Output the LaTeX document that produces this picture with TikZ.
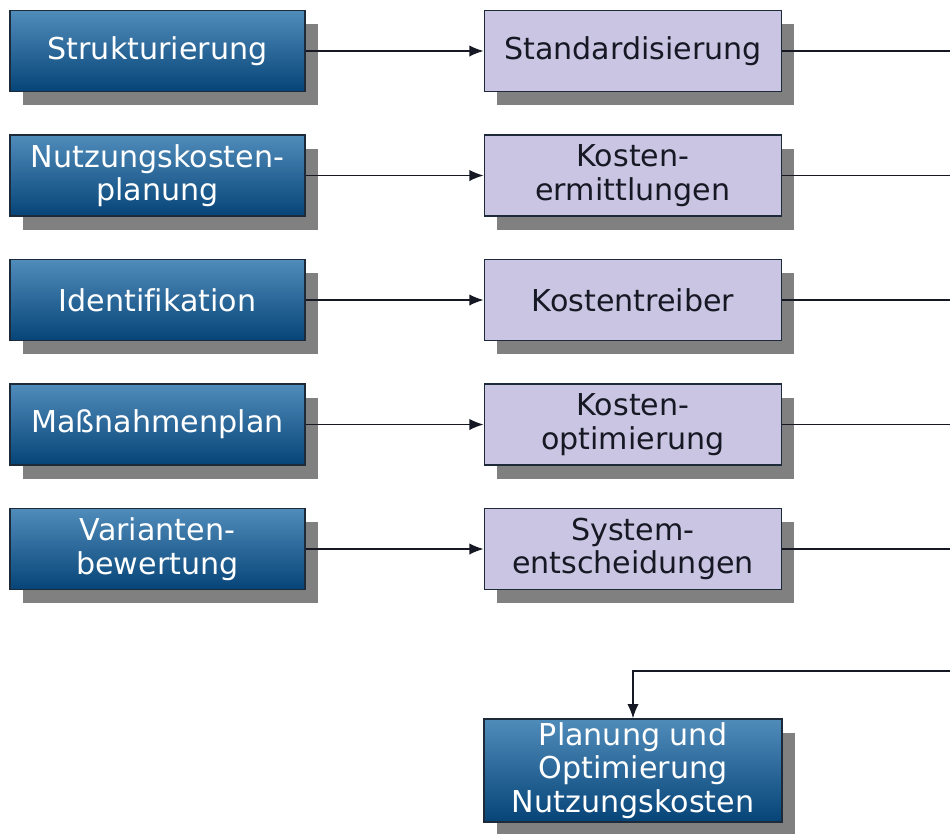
\documentclass[tikz,border=0pt]{standalone}
\usepackage{fontspec}
\setmainfont{DejaVu Sans}[Ligatures=NoCommon]
\usepackage{tikz}
\usetikzlibrary{positioning, arrows.meta, shadows}
\definecolor{boxblueT}{RGB}{80, 140, 186}
\definecolor{boxblueB}{RGB}{6, 68, 120}
\definecolor{boxlila}{RGB}{201, 197, 226}
\definecolor{rimdark}{RGB}{28, 42, 58}
\definecolor{shadowgray}{RGB}{128, 128, 128}
\definecolor{inkdark}{RGB}{22, 24, 36}
\tikzset{
  boxfont/.style={font=\fontsize{12}{13.3}\selectfont, align=center},
  srcbox/.style={boxfont, draw=rimdark, semithick, top color=boxblueT,
                 bottom color=boxblueB, text=white, inner sep=1pt,
                 minimum width=4.13cm, minimum height=1.134cm,
                 drop shadow={shadow xshift=0.18cm, shadow yshift=-0.19cm,
                              fill=shadowgray, opacity=1}},
  resbox/.style={boxfont, draw=rimdark, semithick, fill=boxlila,
                 text=inkdark, inner sep=1pt,
                 minimum width=4.16cm, minimum height=1.134cm,
                 drop shadow={shadow xshift=0.18cm, shadow yshift=-0.19cm,
                              fill=shadowgray, opacity=1}},
  arr/.style={-{Latex[length=2mm, width=1.6mm]}, semithick, draw=inkdark},
  link/.style={semithick, draw=inkdark},
}

\begin{document}
\begin{tikzpicture}

\useasboundingbox (0,0) rectangle (13.3,-11.662);
\coordinate (edge) at (13.3,0);

% ===================== rows: method -> result ==================
\foreach \i/\a/\b in {1/Strukturierung/Standardisierung,
                      2/{Nutzungskosten-\\planung}/{Kosten-\\ermittlungen},
                      3/Identifikation/Kostentreiber,
                      4/Maßnahmenplan/{Kosten-\\optimierung},
                      5/{Varianten-\\bewertung}/{System-\\entscheidungen}} {
  \node[srcbox] (s\i) at (2.205, {-0.714-(\i-1)*1.743}) {\a};
  \node[resbox, right=2.49cm of s\i] (r\i) {\b};
  \coordinate (out\i) at (r\i.east -| edge);
  \draw[arr] (s\i.east) -- (r\i.west);
  \draw[link] (r\i.east) -- (out\i);
}

% ===================== result box ==================
\node[srcbox, minimum width=4.17cm, minimum height=1.44cm]
  (goal) at (8.862, -10.787) {Planung und\\Optimierung\\Nutzungskosten};

\coordinate (back) at (13.3, -9.394);
\draw[arr] (back) -| (goal.north);

\end{tikzpicture}
\end{document}
